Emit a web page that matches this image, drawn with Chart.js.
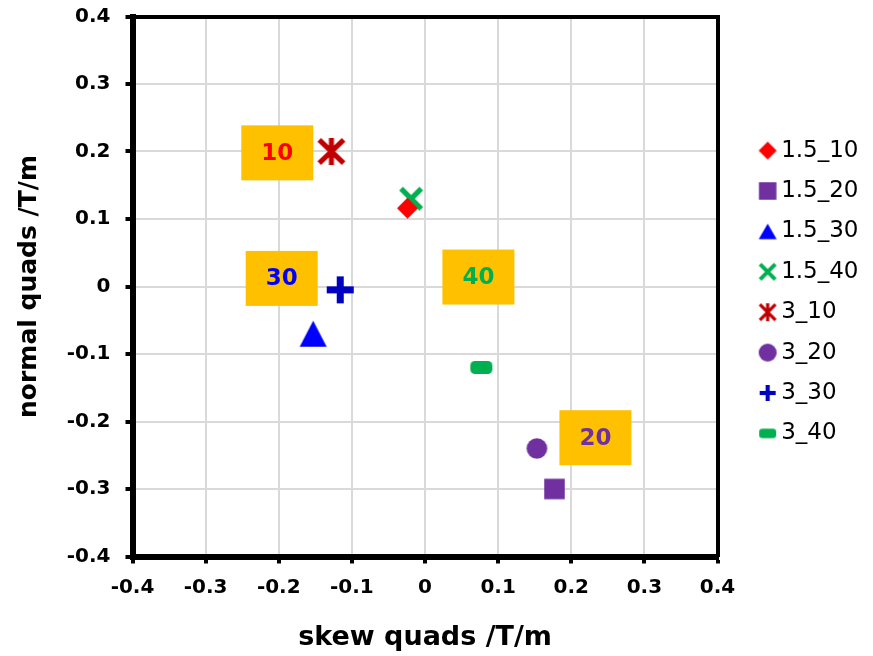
<!DOCTYPE html>
<html>
<head>
<meta charset="utf-8">
<title>quads</title>
<script src="https://cdn.jsdelivr.net/npm/chart.js@4.4.1/dist/chart.umd.min.js"></script>
<style>
  html, body { margin: 0; padding: 0; background: #fff; }
  #wrap { width: 873px; height: 656px; }
</style>
</head>
<body>
<div id="wrap"><canvas id="quadChart" width="873" height="656"></canvas></div>
<script>
// one point per run: skew (x) and normal (y) quad strength, T/m
const seriesNames = ['1.5_10', '1.5_20', '1.5_30', '1.5_40', '3_10', '3_20', '3_30', '3_40'];
const skewValues = [-0.024, 0.177, -0.153, -0.019, -0.128, 0.153, -0.116, 0.077];
const normalValues = [0.116, -0.300, -0.070, 0.130, 0.200, -0.240, -0.005, -0.120];

// axis ticks (same on both axes)
const tickValues = [-0.4, -0.3, -0.2, -0.1, 0, 0.1, 0.2, 0.3, 0.4];

// boxed group labels, centred on these coordinates
const tagTexts = ['10', '20', '30', '40'];
const tagSkew = [-0.202, 0.233, -0.196, 0.073];
const tagNormal = [0.198, -0.224, 0.012, 0.014];

const seriesColors = ['#FF0000', '#7030A0', '#0000FF', '#00B050', '#C00000', '#7030A0', '#0000C0', '#00B050'];
const tagColors = ['#FF0000', '#7030A0', '#0000FF', '#00B050'];
const markerKinds = ['diamond', 'square', 'triangle', 'x', 'star', 'circle', 'plus', 'dash'];

Chart.defaults.font.family = '"DejaVu Sans", sans-serif';

// draw a marker into a small canvas so it can be used as a pointStyle
function makeMarker(kind, w, h, color) {
  const c = document.createElement('canvas');
  c.width = Math.ceil(w) + 4;
  c.height = Math.ceil(h) + 4;
  const g = c.getContext('2d');
  const mx = c.width / 2, my = c.height / 2;
  const hw = w / 2, hh = h / 2;
  g.fillStyle = color;
  g.strokeStyle = color;
  g.beginPath();
  switch (kind) {
    case 'diamond':
      g.moveTo(mx, my - hh); g.lineTo(mx + hw, my); g.lineTo(mx, my + hh); g.lineTo(mx - hw, my);
      g.closePath(); g.fill();
      break;
    case 'square':
      g.fillRect(mx - hw, my - hh, w, h);
      break;
    case 'triangle':
      g.moveTo(mx, my - hh); g.lineTo(mx + hw, my + hh); g.lineTo(mx - hw, my + hh);
      g.closePath(); g.fill();
      break;
    case 'circle':
      g.arc(mx, my, hw, 0, Math.PI * 2); g.fill();
      break;
    case 'x': {
      const lw = w * 0.22, e = hw - lw * 0.36;
      g.lineWidth = lw;
      g.moveTo(mx - e, my - e); g.lineTo(mx + e, my + e);
      g.moveTo(mx + e, my - e); g.lineTo(mx - e, my + e);
      g.stroke();
      break;
    }
    case 'star': {
      const lw = w * 0.18, e = hw - lw * 0.36, f = hh - lw * 0.36;
      g.lineWidth = lw;
      g.moveTo(mx - e, my - f); g.lineTo(mx + e, my + f);
      g.moveTo(mx + e, my - f); g.lineTo(mx - e, my + f);
      g.moveTo(mx, my - hh); g.lineTo(mx, my + hh);
      g.stroke();
      break;
    }
    case 'plus': {
      const t = w * 0.26;
      g.fillRect(mx - hw, my - t / 2, w, t);
      g.fillRect(mx - t / 2, my - hh, t, h);
      break;
    }
    case 'dash':
      g.roundRect(mx - hw, my - hh, w, h, h * 0.35); g.fill();
      break;
  }
  return c;
}

const plotSizes = [[21, 21], [20.5, 20.5], [27, 26], [24, 24], [28, 27], [20.7, 20.7], [27, 27], [22, 13]];
const legendSizes = [[18, 18], [17.5, 17.5], [18, 15.5], [18, 18], [18, 18], [18, 18], [16, 16], [17, 9.5]];
const pointIcons = markerKinds.map((k, i) => makeMarker(k, plotSizes[i][0], plotSizes[i][1], seriesColors[i]));
const legendIcons = markerKinds.map((k, i) => makeMarker(k, legendSizes[i][0], legendSizes[i][1], seriesColors[i]));

const fmtTick = v => String(+Number(v).toFixed(1));

// orange boxes with the group number
const tagBoxes = {
  id: 'tagBoxes',
  beforeDatasetsDraw(chart) {
    const { ctx, scales: { x, y } } = chart;
    ctx.save();
    ctx.font = 'bold 23px "DejaVu Sans"';
    ctx.textAlign = 'center';
    ctx.textBaseline = 'middle';
    tagTexts.forEach((t, i) => {
      const px = x.getPixelForValue(tagSkew[i]);
      const py = y.getPixelForValue(tagNormal[i]);
      ctx.fillStyle = '#FFC000';
      ctx.fillRect(px - 36, py - 27.5, 72, 55);
      ctx.fillStyle = tagColors[i];
      ctx.fillText(t, px, py + 1);
    });
    ctx.restore();
  }
};

const axisGrid = { color: '#d9d9d9', lineWidth: 2, tickColor: '#000', tickWidth: 4, tickLength: 7 };
const setTicks = s => { s.ticks = tickValues.map(v => ({ value: v })); };

const ctx = document.getElementById('quadChart').getContext('2d');
new Chart(ctx, {
  type: 'scatter',
  data: {
    datasets: seriesNames.map((name, i) => ({
      label: name,
      data: [{ x: skewValues[i], y: normalValues[i] }],
      pointStyle: pointIcons[i],
      backgroundColor: seriesColors[i],
      borderColor: seriesColors[i]
    }))
  },
  options: {
    responsive: false,
    animation: false,
    layout: { padding: { left: 0, right: 4.5, top: 0, bottom: 0 } },
    plugins: {
      tooltip: { enabled: false },
      legend: {
        position: 'right',
        fullSize: false,
        // empty title only used as a spacer above the entries
        title: { display: true, text: '', font: { size: 0 }, padding: { top: 11, bottom: 0 } },
        labels: {
          usePointStyle: true,
          boxWidth: 4,
          padding: 17.4,
          color: '#000',
          font: { size: 23 },
          generateLabels: chart => chart.data.datasets.map((ds, i) => ({
            text: ds.label,
            pointStyle: legendIcons[i],
            fillStyle: seriesColors[i],
            strokeStyle: seriesColors[i],
            lineWidth: 0,
            hidden: false,
            datasetIndex: i,
            fontColor: '#000'
          }))
        }
      }
    },
    scales: {
      x: {
        type: 'linear',
        position: 'bottom',
        min: -0.4,
        max: 0.4,
        afterBuildTicks: setTicks,
        afterFit: s => { s.height = 99.5; s.paddingLeft = 0; s.paddingRight = 0; },
        grid: axisGrid,
        border: { color: '#000', width: 6 },
        ticks: { padding: 12, color: '#000', autoSkip: false, maxRotation: 0, font: { size: 20, weight: 'bold' }, callback: fmtTick },
        title: { display: true, text: 'skew quads /T/m', color: '#000', font: { size: 27, weight: 'bold' }, padding: { top: 0, bottom: 2 } }
      },
      y: {
        type: 'linear',
        position: 'left',
        min: -0.4,
        max: 0.4,
        afterBuildTicks: setTicks,
        afterFit: s => { s.width = 132.5; s.paddingTop = 0; s.paddingBottom = 0; },
        grid: axisGrid,
        border: { color: '#000', width: 6 },
        ticks: { padding: 15, color: '#000', font: { size: 20, weight: 'bold' }, callback: fmtTick },
        title: { display: true, text: 'normal quads /T/m', color: '#000', font: { size: 25, weight: 'bold' }, padding: { top: 14, bottom: 0 } }
      },
      // frame lines on the top and right of the plot
      xTop: {
        type: 'linear', position: 'top', min: 0, max: 1,
        grid: { display: false }, ticks: { display: false },
        border: { color: '#000', width: 4 },
        afterFit: s => { s.height = 16.5; }
      },
      yRight: {
        type: 'linear', position: 'right', min: 0, max: 1,
        grid: { display: false }, ticks: { display: false },
        border: { color: '#000', width: 4 },
        afterFit: s => { s.width = 30.7; }
      }
    }
  },
  plugins: [tagBoxes]
});
</script>
</body>
</html>
